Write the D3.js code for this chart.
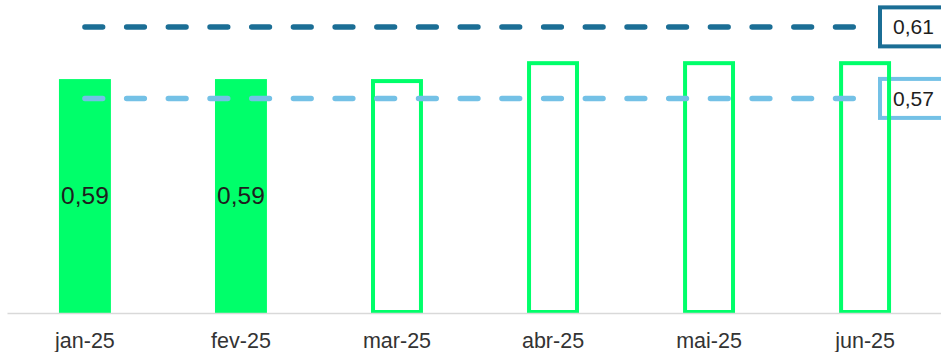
<!DOCTYPE html>
<html>
<head>
<meta charset="utf-8">
<script src="https://cdn.jsdelivr.net/npm/d3@7"></script>
<style>
  html, body { margin: 0; padding: 0; background: #fff; }
  svg { display: block; font-family: "Liberation Sans", Arial, sans-serif; }
</style>
</head>
<body>
<svg id="chart" width="941" height="352"></svg>
<script>
// Months shown on the x axis
const months = ["jan-25", "fev-25", "mar-25", "abr-25", "mai-25", "jun-25"];
// Monthly values: realised months are filled, the rest are projected (outlined)
const values = [0.59, 0.59, 0.59, 0.635, 0.635, 0.635];
const realised = [true, true, false, false, false, false];
// Reference lines drawn across all months (secondary scale)
const refUpper = [0.61, 0.61, 0.61, 0.61, 0.61, 0.61];
const refLower = [0.57, 0.57, 0.57, 0.57, 0.57, 0.57];

const fmt = v => d3.format(".2f")(v).replace(".", ",");

const svg = d3.select("#chart");
const baseY = 314, topY = 10;

const x = d3.scaleBand()
  .domain(months)
  .range([7, 943])
  .paddingInner(0.667)
  .paddingOuter(0.333);

const y = d3.scaleLinear().domain([0, 0.7635]).range([baseY, topY]);
const y2 = d3.scaleLinear().domain([0.45, 0.62]).range([313, 9]);

const green = "#00ff6a";

const line = d3.line()
  .x((d, i) => x(months[i]) + x.bandwidth() / 2)
  .y(d => y2(d));

const refs = [
  { data: refUpper, color: "#1b6e95" },
  { data: refLower, color: "#74c1e6" }
];

// End label boxes sit underneath the bars
const boxes = svg.append("g");
refs.forEach(r => {
  const v = r.data[r.data.length - 1];
  const ly = y2(v);
  boxes.append("rect")
    .attr("x", 880).attr("y", ly - 19.5)
    .attr("width", 90).attr("height", 39)
    .attr("fill", "none")
    .attr("stroke", r.color)
    .attr("stroke-width", 4);
  boxes.append("text")
    .attr("x", 893).attr("y", ly + 7.5)
    .attr("font-size", 21)
    .attr("fill", "#1e1e1e")
    .text(fmt(v));
});

// Bars
const bars = svg.append("g");
months.forEach((m, i) => {
  const x0 = x(m), bw = x.bandwidth();
  const top = y(values[i]);
  if (realised[i]) {
    bars.append("rect")
      .attr("x", x0).attr("y", top)
      .attr("width", bw).attr("height", baseY - top)
      .attr("fill", green);
  } else {
    bars.append("rect")
      .attr("x", x0 + 2).attr("y", top + 2)
      .attr("width", bw - 4).attr("height", baseY - top - 4)
      .attr("fill", "none")
      .attr("stroke", green)
      .attr("stroke-width", 4);
  }
});

// Value labels inside the realised bars
months.forEach((m, i) => {
  if (!realised[i]) return;
  svg.append("text")
    .attr("x", x(m) + x.bandwidth() / 2)
    .attr("y", 204)
    .attr("text-anchor", "middle")
    .attr("font-size", 24.5)
    .attr("fill", "#1e1e1e")
    .text(fmt(values[i]));
});

// X axis
const xAxis = svg.append("g")
  .attr("transform", `translate(0,${baseY - 1})`)
  .call(d3.axisBottom(x).tickSize(0).tickPadding(20));
xAxis.select(".domain").attr("stroke", "#d9d9d9").attr("stroke-width", 1.5);
xAxis.selectAll("text")
  .attr("font-size", 21.5)
  .attr("fill", "#333")
  .attr("font-family", "Liberation Sans, Arial, sans-serif");

// Dashed reference lines
refs.forEach(r => {
  svg.append("path")
    .datum(r.data)
    .attr("d", line)
    .attr("fill", "none")
    .attr("stroke", r.color)
    .attr("stroke-width", 5.5)
    .attr("stroke-linecap", "round")
    .attr("stroke-dasharray", "17.7,24");
});
</script>
</body>
</html>
